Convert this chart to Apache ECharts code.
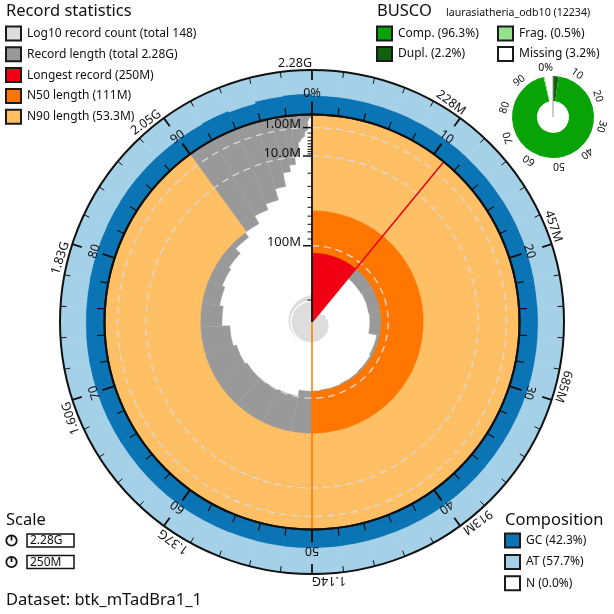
<!DOCTYPE html>
<html>
<head>
<meta charset="utf-8">
<script src="https://cdn.jsdelivr.net/npm/echarts@6.0.0/dist/echarts.min.js"></script>
<style>
html,body{margin:0;padding:0;background:#ffffff;}
#chart{width:614px;height:614px;}
</style>
</head>
<body>
<div id="chart"></div>
<script>
// ---------------- data ----------------
const recordLengthsM = [250, 132, 131, 130, 116, 114, 113, 112, 111, 101, 100, 99, 96, 91, 80, 75, 71, 68, 60, 53.3,
  44, 38, 28, 18, 14, 10, 4.2, 3.5, 3.0, 2.8, 1.8, 1.6, 1.5, 1.4];
const tailGroupCounts = [10, 30, 74];
const tailGroupLengthsM = [0.2, 0.08, 0.047];
const gcBinsPct = [
  42.8, 42.5, 42.1, 42.4, 42.6, 42.2, 41.9, 42.0, 42.5, 42.3,
  42.0, 41.8, 42.1, 42.4, 42.6, 42.2, 41.9, 41.7, 42.0, 42.2,
  42.4, 42.1, 41.8, 42.0, 42.3, 42.5, 42.1, 41.9, 42.2, 42.4,
  42.3, 42.0, 41.8, 42.1, 42.3, 42.6, 42.8, 42.4, 42.2, 42.5,
  42.7, 43.2, 43.6, 43.4, 43.0, 42.5, 44.2, 41.2, 45.5, 47.0];
const compositionNames = ['GC', 'AT', 'N'];
const compositionPct = [42.3, 57.7, 0.0];
const buscoNames = ['Comp.', 'Dupl.', 'Frag.', 'Missing'];
const buscoPct = [96.3, 2.2, 0.5, 3.2];
const buscoLineage = 'laurasiatheria_odb10';
const buscoTotal = 12234;
const percentTicks = [0, 10, 20, 30, 40, 50, 60, 70, 80, 90];
const cumulativeTicks = [10, 20, 30, 40, 50, 60, 70, 80, 90, 100];
const buscoTicks = [0, 10, 20, 30, 40, 50, 60, 70, 80, 90];
const lengthMajorTicksM = [1, 10, 100];
const lengthMinorTicksM = [2, 3, 4, 5, 6, 7, 8, 9, 20, 30, 40, 50, 60, 70, 80, 90, 200];
const countScaleLines = [10, 100];
const datasetName = 'btk_mTadBra1_1';

// ---------------- styles ----------------
const C = {
  count: '#dcdcdc', length: '#999999', longest: '#f00012', n50: '#ff7700', n90: '#febf65',
  gc: '#0a74b5', at: '#a4d0e8', nn: '#ffffff',
  comp: '#07a307', dupl: '#10620f', frag: '#93e28a', miss: '#ffffff',
  axis: '#111111', dash: '#d9d9d9'
};
const FONT = "'Noto Sans','Open Sans',sans-serif";
const CX = 312, CY = 322, R_IN = 207.5, R_OUT = 252;

// ---------------- derived ----------------
const segs = [];
let cum = 0, cnt = 0;
recordLengthsM.forEach(L => { segs.push({L, start: cum, end: cum + L, count: ++cnt}); cum += L; });
tailGroupCounts.forEach((n, i) => {
  const L = tailGroupLengthsM[i];
  segs.push({L, start: cum, end: cum + n * L, count: cnt + n});
  cum += n * L; cnt += n;
});
const totalLen = cum, totalCount = cnt;
const pct = v => v / totalLen * 100;
const longest = Math.max(...recordLengthsM);
const nX = f => { for (const s of segs) { if (s.end >= f * totalLen) return s.L; } return 0; };
const N50 = nX(0.5), N90 = nX(0.9);
const fmtLen = v => v >= 1000 ? (v / 1000).toPrecision(3) + 'G' : v.toPrecision(3) + 'M';
const pEndFor = Lc => { let e = 0; segs.forEach(s => { if (s.L >= Lc) e = pct(s.end); }); return e; };
const gcBinW = 100 / gcBinsPct.length;

// ---------------- geometry helpers (through the polar axes) ----------------
const TAU = Math.PI * 2;
function mk(params, api, ref) {
  const cs = params.coordSys;
  const cx = cs.cx, cy = cs.cy;
  const radiusOf = (rv, p) => { const c = api.coord([rv, p]); return Math.hypot(c[0] - cx, c[1] - cy); };
  const angleOf = p => { const c = api.coord([ref, p]); return Math.atan2(c[1] - cy, c[0] - cx); };
  const span = (p0, p1) => {
    if (p1 - p0 >= 99.9999) return TAU;
    let d = angleOf(p1) - angleOf(p0);
    d = ((d % TAU) + TAU) % TAU;
    if (p1 - p0 < 50 && d > 1.5 * Math.PI) d = 0;
    return d;
  };
  const sector = (rA, rB, p0, p1, style) => {
    const a0 = angleOf(p0);
    return {type: 'sector', shape: {cx, cy, r0: Math.min(rA, rB), r: Math.max(rA, rB), startAngle: a0, endAngle: a0 + span(p0, p1), clockwise: true}, style};
  };
  const arc = (r, p0, p1, style) => {
    const a0 = angleOf(p0);
    return {type: 'arc', shape: {cx, cy, r, startAngle: a0, endAngle: a0 + span(p0, p1), clockwise: true}, style};
  };
  const at = (r, p) => { const a = angleOf(p); return [cx + r * Math.cos(a), cy + r * Math.sin(a), a]; };
  return {cx, cy, radiusOf, angleOf, sector, arc, at};
}
function txt(x, y, text, size, align, vAlign, rot) {
  return {type: 'text', x, y, rotation: rot || 0,
    style: {text, fill: C.axis, font: size + 'px ' + FONT, align, verticalAlign: vAlign, textAlign: align, textVerticalAlign: vAlign}};
}

const series = [];
// composition ring
series.push({
  type: 'custom', coordinateSystem: 'polar', polarIndex: 2, z: 1, silent: true,
  data: gcBinsPct.map((g, i) => [g / 100, i * gcBinW, (i + 1) * gcBinW]),
  encode: {radius: 0, angle: 1},
  renderItem(params, api) {
    const g = mk(params, api, 1);
    const v = api.value(0), p0 = api.value(1), p1 = api.value(2);
    const rIn = g.radiusOf(0, p0), rG = g.radiusOf(v, p0), rOut = g.radiusOf(1 - compositionPct[2] / 100, p0);
    return {type: 'group', children: [
      g.sector(rIn, rG, p0, p1, {fill: C.gc, stroke: C.gc, lineWidth: 0.6}),
      g.sector(rG, rOut, p0, p1, {fill: C.at, stroke: C.at, lineWidth: 0.6})
    ]};
  }
});
// log10 record count spiral
series.push({
  type: 'custom', coordinateSystem: 'polar', polarIndex: 1, z: 2, silent: true,
  data: segs.map(s => [s.count, pct(s.start), pct(s.end)]),
  encode: {radius: 0, angle: 1},
  renderItem(params, api) {
    const g = mk(params, api, 1000);
    const c = api.value(0), p0 = api.value(1), p1 = api.value(2);
    return g.sector(0, g.radiusOf(c, p0), p0, p1, {fill: C.count, stroke: C.count, lineWidth: 0.5});
  }
});
series.push({
  type: 'custom', coordinateSystem: 'polar', polarIndex: 1, z: 3, silent: true,
  data: countScaleLines.map(c => [c, 0, 100]),
  encode: {radius: 0, angle: 1},
  renderItem(params, api) {
    const g = mk(params, api, 1000);
    return g.arc(g.radiusOf(api.value(0), 0), 0, 100, {stroke: '#ffffff', lineWidth: 1.3, fill: 'none'});
  }
});
// record lengths
series.push({
  type: 'custom', coordinateSystem: 'polar', polarIndex: 0, z: 4, silent: true,
  data: segs.map(s => [Math.sqrt(s.L), pct(s.start), pct(s.end)]),
  encode: {radius: 0, angle: 1},
  renderItem(params, api) {
    const g = mk(params, api, 0);
    const v = api.value(0), p0 = api.value(1), p1 = api.value(2);
    return g.sector(g.radiusOf(v, p0), g.radiusOf(0, p0), p0, p1, {fill: C.length, stroke: C.length, lineWidth: 0.4});
  }
});
// longest, N50, N90
[[longest, pct(longest), C.longest, 5], [N50, 50, C.n50, 6], [N90, 90, C.n90, 7]].forEach(([L, pe, col, z]) => {
  series.push({
    type: 'custom', coordinateSystem: 'polar', polarIndex: 0, z, silent: true,
    data: [[Math.sqrt(L), 0, pe]],
    encode: {radius: 0, angle: 1},
    renderItem(params, api) {
      const g = mk(params, api, 0);
      const v = api.value(0), p0 = api.value(1), p1 = api.value(2);
      return g.sector(g.radiusOf(v, p0), g.radiusOf(0, p0), p0, p1, {fill: col, stroke: col, lineWidth: 0.4});
    }
  });
});
// dashed scale circles
series.push({
  type: 'custom', coordinateSystem: 'polar', polarIndex: 0, z: 8, silent: true,
  data: lengthMajorTicksM.map(L => [Math.sqrt(L), 0, pEndFor(L)]),
  encode: {radius: 0, angle: 1},
  renderItem(params, api) {
    const g = mk(params, api, 0);
    return g.arc(g.radiusOf(api.value(0), 0), api.value(1), api.value(2), {stroke: C.dash, lineWidth: 1.3, lineDash: [7, 5], fill: 'none'});
  }
});
// marker lines (longest end, 50%)
series.push({
  type: 'custom', coordinateSystem: 'polar', polarIndex: 0, z: 9, silent: true,
  data: [[0, pct(longest), 0], [0, 50, 1]],
  encode: {radius: 0, angle: 1},
  renderItem(params, api) {
    const g = mk(params, api, 0);
    const e = api.coord([api.value(0), api.value(1)]);
    return {type: 'line', shape: {x1: g.cx, y1: g.cy, x2: e[0], y2: e[1]},
      style: {stroke: api.value(2) === 0 ? C.longest : C.n50, lineWidth: 1.5}};
  }
});
// radial length axis
series.push({
  type: 'custom', coordinateSystem: 'polar', polarIndex: 0, z: 10, silent: true,
  data: [[0, 0]],
  encode: {radius: 0, angle: 1},
  renderItem(params, api) {
    const g = mk(params, api, 0);
    const top = api.coord([0, 0]);
    const ch = [{type: 'line', shape: {x1: g.cx, y1: g.cy, x2: top[0], y2: top[1]}, style: {stroke: C.axis, lineWidth: 1.8}}];
    lengthMinorTicksM.forEach(L => {
      const c = api.coord([Math.sqrt(L), 0]);
      ch.push({type: 'line', shape: {x1: c[0] - 4.5, y1: c[1], x2: c[0], y2: c[1]}, style: {stroke: C.axis, lineWidth: 1}});
    });
    lengthMajorTicksM.forEach(L => {
      const c = api.coord([Math.sqrt(L), 0]);
      ch.push({type: 'line', shape: {x1: c[0] - 9, y1: c[1], x2: c[0], y2: c[1]}, style: {stroke: C.axis, lineWidth: 1.5}});
      ch.push(txt(c[0] - 11, c[1] - 3, fmtLen(L), 13, 'right', 'middle'));
    });
    return {type: 'group', children: ch};
  }
});
// ring labels
series.push({
  type: 'custom', coordinateSystem: 'polar', polarIndex: 2, z: 11, silent: true,
  data: percentTicks.map(p => [0, p, 0]).concat(cumulativeTicks.map(p => [1, p, 1])),
  encode: {radius: 0, angle: 1},
  renderItem(params, api) {
    const g = mk(params, api, 1);
    const p = api.value(1), kind = api.value(2);
    if (kind === 0) {
      const q = g.at(g.radiusOf(0, p) + 21, p);
      return txt(q[0], q[1], p === 0 ? '0%' : String(p), 12.5, 'center', 'middle', -(q[2] + Math.PI / 2));
    }
    const q = g.at(g.radiusOf(1, p) + 7, p);
    return txt(q[0], q[1], fmtLen(totalLen * p / 100), 12.5, 'right', 'middle', -(q[2] + Math.PI / 2));
  }
});
// BUSCO donut
series.push({
  type: 'pie', center: [553, 117], radius: [16, 41], startAngle: 90, clockwise: true, z: 2, silent: true,
  label: {show: false}, labelLine: {show: false}, itemStyle: {borderWidth: 0},
  emphasis: {disabled: true},
  data: [
    {name: 'Dupl.', value: buscoPct[1], itemStyle: {color: C.dupl}},
    {name: 'Single', value: buscoPct[0] - buscoPct[1], itemStyle: {color: C.comp}},
    {name: 'Frag.', value: buscoPct[2], itemStyle: {color: C.frag}},
    {name: 'Missing', value: buscoPct[3], itemStyle: {color: C.miss}}
  ]
});
series.push({
  type: 'custom', coordinateSystem: 'polar', polarIndex: 3, z: 5, silent: true,
  data: buscoTicks.map(p => [1, p]),
  encode: {radius: 0, angle: 1},
  renderItem(params, api) {
    const g = mk(params, api, 1);
    const p = api.value(1);
    const q = g.at(g.radiusOf(1, p) + 2.5, p);
    const t = txt(q[0], q[1], p === 0 ? '0%' : String(p), 10.5, 'right', 'bottom', -(q[2] + Math.PI / 2));
    if (p !== 0) return t;
    const e = api.coord([1, 0]);
    return {type: 'group', children: [t, {type: 'line', shape: {x1: g.cx, y1: g.cy, x2: e[0], y2: e[1]}, style: {stroke: '#999999', lineWidth: 1}}]};
  }
});

// ---------------- legends (graphic) ----------------
const G = [];
function box(x, y, w, h, fill) {
  G.push({type: 'rect', shape: {x, y, width: w, height: h}, style: {fill, stroke: '#1a1a1a', lineWidth: 2}});
}
function gtxt(x, y, text, size, align) {
  G.push({type: 'text', x, y, style: {text, fill: C.axis, font: size + 'px ' + FONT, align: align || 'left', verticalAlign: 'middle', textAlign: align || 'left', textVerticalAlign: 'middle'}});
}
gtxt(6, 11, 'Record statistics', 16.5);
const recLegend = [
  [C.count, 'Log10 record count (total ' + totalCount + ')'],
  [C.length, 'Record length (total ' + fmtLen(totalLen) + ')'],
  [C.longest, 'Longest record (' + fmtLen(longest) + ')'],
  [C.n50, 'N50 length (' + fmtLen(N50) + ')'],
  [C.n90, 'N90 length (' + fmtLen(N90) + ')']
];
recLegend.forEach((r, i) => { const cy = 33.5 + i * 20.8; box(6, cy - 7, 15, 14, r[0]); gtxt(27, cy, r[1], 12); });

gtxt(377, 11, 'BUSCO', 16.5);
gtxt(446, 13, buscoLineage + ' (' + buscoTotal + ')', 10.6);
const bCols = [C.comp, C.dupl, C.frag, C.miss];
const bPos = [[377, 33.5], [377, 54], [498, 33.5], [498, 54]];
buscoNames.forEach((n, i) => { const [x, y] = bPos[i]; box(x, y - 7, 15, 14, bCols[i]); gtxt(x + 21, y, n + ' (' + buscoPct[i].toFixed(1) + '%)', 12); });

gtxt(6, 520, 'Scale', 16.5);
[fmtLen(totalLen), fmtLen(longest)].forEach((t, i) => {
  const cy = 540.5 + i * 21.5;
  G.push({type: 'circle', shape: {cx: 11.5, cy, r: 5.2}, style: {fill: '#fff', stroke: '#111', lineWidth: 1.8}});
  G.push({type: 'line', shape: {x1: 11.5, y1: cy, x2: 11.5, y2: cy - 5.2}, style: {stroke: '#111', lineWidth: 1.8}});
  G.push({type: 'rect', shape: {x: 27, y: cy - 6.5, width: 47, height: 13}, style: {fill: '#fff', stroke: '#111', lineWidth: 1.5}});
  gtxt(30, cy + 0.5, t, 12);
});
gtxt(6, 600, 'Dataset: ' + datasetName, 16.5);

gtxt(505, 520, 'Composition', 16.5);
const cCols = [C.gc, C.at, C.nn];
compositionNames.forEach((n, i) => { const cy = 540.5 + i * 21.4; box(505, cy - 7, 15, 14, cCols[i]); gtxt(526, cy, n + ' (' + compositionPct[i].toFixed(1) + '%)', 12); });

// ---------------- axes ----------------
const hiddenAngle = idx => ({polarIndex: idx, type: 'value', min: 0, max: 100, startAngle: 90, clockwise: true, show: false,
  axisLine: {show: false}, axisTick: {show: false}, axisLabel: {show: false}, splitLine: {show: false}});
const hiddenRadius = (idx, extra) => Object.assign({polarIndex: idx, show: false,
  axisLine: {show: false}, axisTick: {show: false}, axisLabel: {show: false}, splitLine: {show: false}}, extra);

const option = {
  animation: false,
  backgroundColor: '#ffffff',
  polar: [
    {center: [CX, CY], radius: [0, R_IN]},
    {center: [CX, CY], radius: [8, 47]},
    {center: [CX, CY], radius: [R_IN, R_OUT]},
    {center: [553, 117], radius: [0, 41]}
  ],
  angleAxis: [
    {polarIndex: 0, type: 'value', min: 0, max: 100, interval: 10, startAngle: 90, clockwise: true, z: 30,
      axisLine: {show: true, lineStyle: {color: C.axis, width: 2}},
      axisTick: {show: true, inside: false, length: 13, lineStyle: {color: C.axis, width: 2}},
      minorTick: {show: true, splitNumber: 5, length: 8, lineStyle: {color: C.axis, width: 1.2}},
      axisLabel: {show: false}, splitLine: {show: false}, minorSplitLine: {show: false}},
    hiddenAngle(1),
    {polarIndex: 2, type: 'value', min: 0, max: 100, interval: 10, startAngle: 90, clockwise: true, z: 30,
      axisLine: {show: true, lineStyle: {color: C.axis, width: 2}},
      axisTick: {show: true, inside: true, length: 10, lineStyle: {color: C.axis, width: 1.8}},
      minorTick: {show: true, splitNumber: 5, length: 6, lineStyle: {color: C.axis, width: 1}},
      axisLabel: {show: false}, splitLine: {show: false}, minorSplitLine: {show: false}},
    hiddenAngle(3)
  ],
  radiusAxis: [
    hiddenRadius(0, {type: 'value', min: 0, max: Math.sqrt(longest), inverse: true}),
    hiddenRadius(1, {type: 'log', logBase: 10, min: 1, max: 1000}),
    hiddenRadius(2, {type: 'value', min: 0, max: 1}),
    hiddenRadius(3, {type: 'value', min: 0, max: 1})
  ],
  graphic: G,
  series
};
const chart = echarts.init(document.getElementById('chart'), null, {renderer: 'canvas'});
chart.setOption(option);
</script>
</body>
</html>
